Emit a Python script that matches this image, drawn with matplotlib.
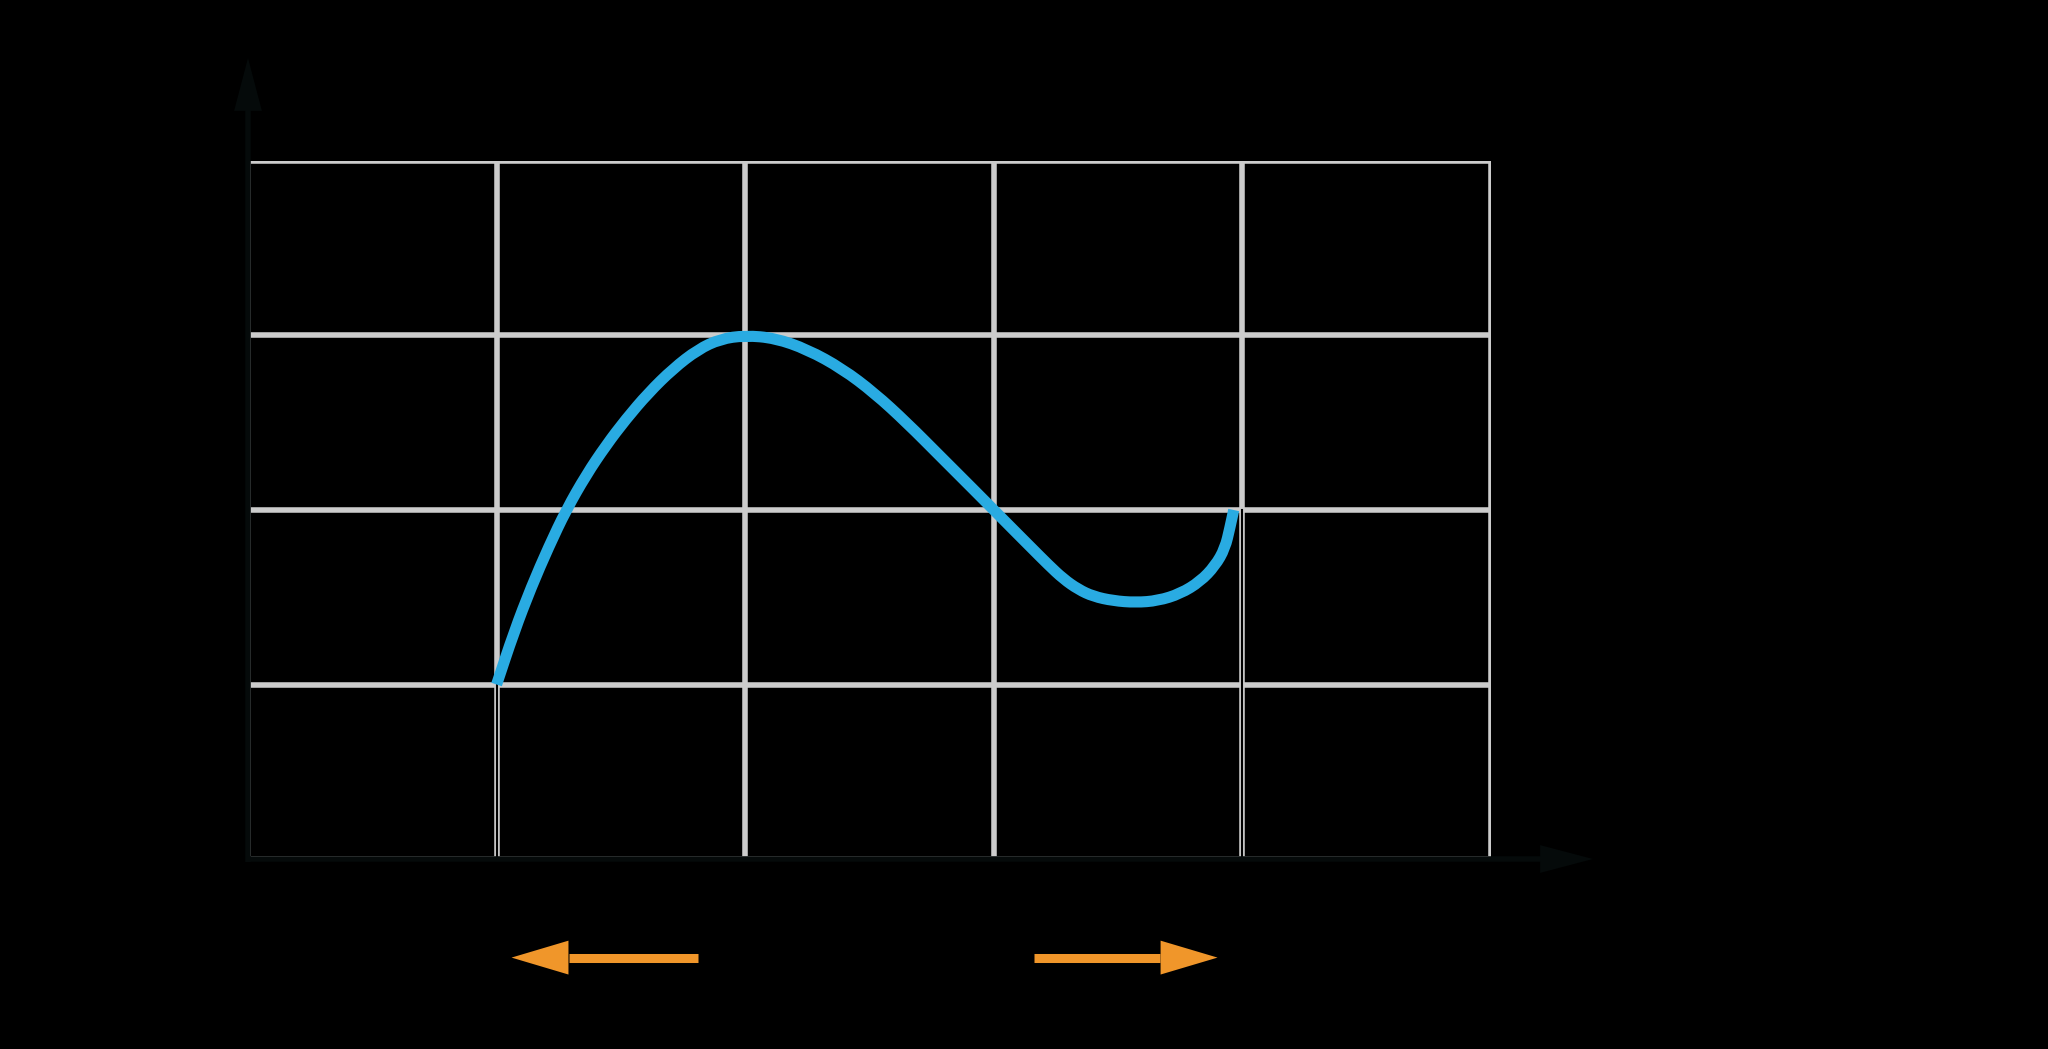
import matplotlib
matplotlib.use('Agg')
import matplotlib.pyplot as plt
from matplotlib.path import Path
from matplotlib.patches import PathPatch

# точки кривой (в клетках сетки)
curve_x = [1.00, 1.07, 1.14, 1.21, 1.28, 1.36, 1.44, 1.52, 1.61, 1.71, 1.81, 1.90, 2.00,
           2.12, 2.25, 2.39, 2.52, 2.65, 2.79, 2.92, 3.00, 3.08, 3.15, 3.22, 3.28, 3.34,
           3.40, 3.48, 3.57, 3.66, 3.75, 3.83, 3.89, 3.93, 3.95, 3.965]
curve_y = [1.00, 1.30, 1.56, 1.79, 2.00, 2.20, 2.37, 2.52, 2.67, 2.81, 2.92, 2.98, 3.00,
           2.985, 2.92, 2.81, 2.67, 2.50, 2.30, 2.115, 2.00, 1.885, 1.785, 1.685, 1.605, 1.545,
           1.505, 1.48, 1.47, 1.48, 1.52, 1.59, 1.68, 1.78, 1.90, 2.00]
x_ticks = [0, 1, 2, 3, 4, 5]
y_ticks = [0, 1, 2, 3, 4]
drop_x = [1, 4]
drop_y = [1, 2]

BLUE = '#29abe2'
ORANGE = '#f0962a'
GRID = '#cccccc'
AXIS = '#050a0a'

fig = plt.figure(figsize=(20.48, 10.49), dpi=100, facecolor='black')
ax = fig.add_axes([248 / 2048, 190 / 1049, 1243 / 2048, 698 / 1049])
ax.set_facecolor('black')
ax.set_xlim(0, 5)
ax.set_ylim(0, 4)
for s in ax.spines.values():
    s.set_visible(False)
ax.set_xticks(x_ticks)
ax.set_yticks(y_ticks)
ax.tick_params(length=0, labelbottom=False, labelleft=False)
ax.grid(True, color=GRID, lw=4)
ax.set_axisbelow(True)

# опускающиеся линии к оси
for xv, yv in zip(drop_x, drop_y):
    ax.plot([xv, xv], [0, yv], color='black', lw=1.5, zorder=3)

# сглаженная кривая через снятые точки (квадратичные сегменты по серединам)
pts = list(zip(curve_x, curve_y))
verts = [pts[0], ((pts[0][0] + pts[1][0]) / 2, (pts[0][1] + pts[1][1]) / 2)]
codes = [Path.MOVETO, Path.LINETO]
for i in range(1, len(pts) - 1):
    mid = ((pts[i][0] + pts[i + 1][0]) / 2, (pts[i][1] + pts[i + 1][1]) / 2)
    verts += [pts[i], mid]
    codes += [Path.CURVE3, Path.CURVE3]
verts.append(pts[-1])
codes.append(Path.LINETO)
ax.add_patch(PathPatch(Path(verts, codes), fill=False, edgecolor=BLUE, lw=8,
                       capstyle='butt', joinstyle='round', zorder=4, clip_on=False))

# оси со стрелками
ax.plot([0, 0], [-0.015, 4.30], color=AXIS, lw=4, solid_capstyle='butt', clip_on=False, zorder=5)
ax.annotate('', xy=(0, 4.59), xytext=(0, 4.28),
            arrowprops=dict(arrowstyle='-|>,head_length=38,head_width=10',
                            mutation_scale=1, color=AXIS, lw=0, shrinkA=0, shrinkB=0),
            annotation_clip=False, zorder=5)
ax.plot([-0.01, 5.21], [0, 0], color=AXIS, lw=4, solid_capstyle='butt', clip_on=False, zorder=5)
ax.annotate('', xy=(5.41, 0), xytext=(5.20, 0),
            arrowprops=dict(arrowstyle='-|>,head_length=38,head_width=10',
                            mutation_scale=1, color=AXIS, lw=0, shrinkA=0, shrinkB=0),
            annotation_clip=False, zorder=5)

# оранжевые стрелки под осью
ARROW_Y = -0.565
for tail, base, tip in [(1.81, 1.29, 1.06), (3.16, 3.67, 3.90)]:
    ax.plot([tail, base], [ARROW_Y, ARROW_Y], color=ORANGE, lw=6.5,
            solid_capstyle='butt', clip_on=False)
    ax.annotate('', xy=(tip, ARROW_Y), xytext=(base, ARROW_Y),
                arrowprops=dict(arrowstyle='-|>,head_length=41,head_width=12.2',
                                mutation_scale=1, color=ORANGE, lw=0, shrinkA=0, shrinkB=0),
                annotation_clip=False)

fig.savefig('out.png', dpi=100, facecolor='black')
